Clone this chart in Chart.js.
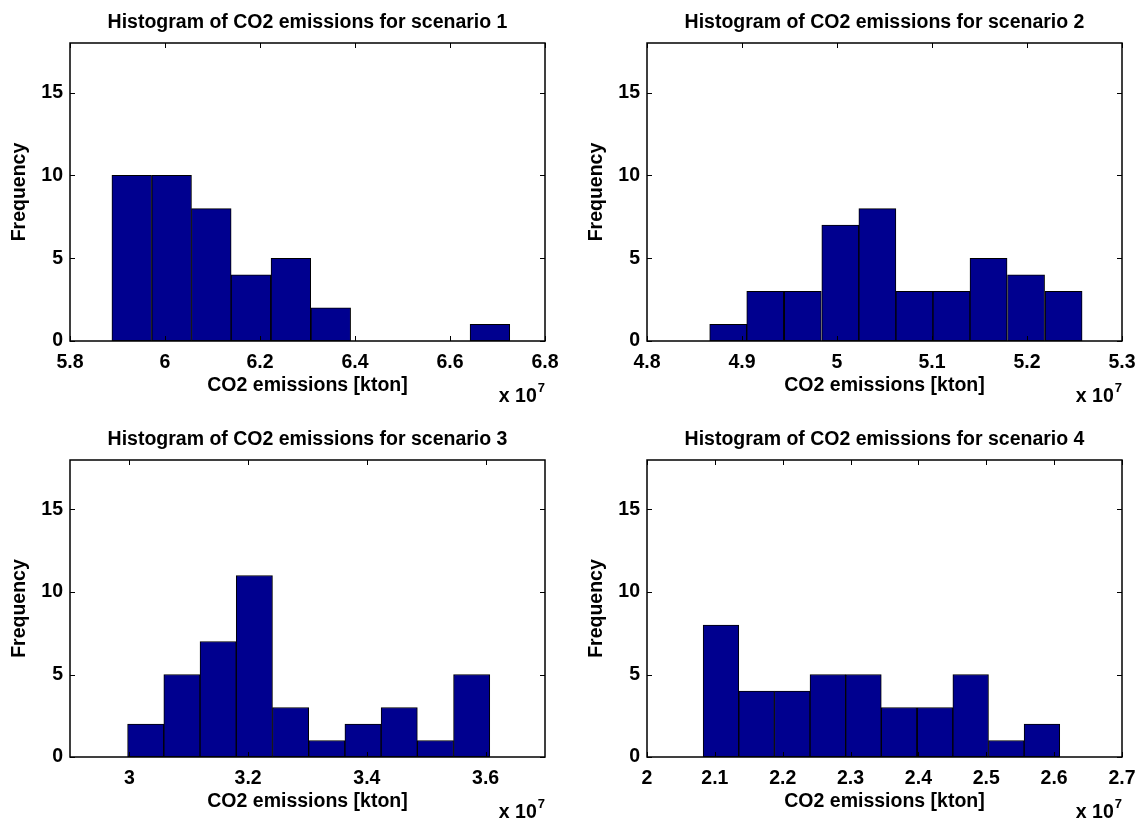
<!DOCTYPE html>
<html>
<head>
<meta charset="utf-8">
<script src="https://cdn.jsdelivr.net/npm/chart.js@4.4.1/dist/chart.umd.min.js"></script>
<style>
  body { margin: 0; background: #fff; }
  canvas { position: absolute; }
</style>
</head>
<body>
<canvas id="c1" width="571" height="410" style="left:0;top:0"></canvas>
<canvas id="c2" width="571" height="410" style="left:571px;top:0"></canvas>
<canvas id="c3" width="571" height="409" style="left:0;top:410px"></canvas>
<canvas id="c4" width="571" height="409" style="left:571px;top:410px"></canvas>
<script>
// values in units of 10^7 kton
const titles = [
  'Histogram of CO2 emissions for scenario 1',
  'Histogram of CO2 emissions for scenario 2',
  'Histogram of CO2 emissions for scenario 3',
  'Histogram of CO2 emissions for scenario 4'
];
const xLabel = 'CO2 emissions [kton]';
const yLabel = 'Frequency';
const yTicks = [0, 5, 10, 15];
const yMax = 18;

const edges1 = [5.888, 5.972, 6.056, 6.139, 6.223, 6.307, 6.391, 6.474, 6.558, 6.642, 6.726];
const counts1 = [10, 10, 8, 4, 5, 2, 0, 0, 0, 1];
const xTicks1 = [5.8, 6, 6.2, 6.4, 6.6, 6.8];
const xRange1 = [5.8, 6.8];

const edges2 = [4.866, 4.905, 4.944, 4.984, 5.023, 5.062, 5.101, 5.140, 5.179, 5.219, 5.258];
const counts2 = [1, 3, 3, 7, 8, 3, 3, 5, 4, 3];
const xTicks2 = [4.8, 4.9, 5, 5.1, 5.2, 5.3];
const xRange2 = [4.8, 5.3];

const edges3 = [2.997, 3.058, 3.119, 3.180, 3.241, 3.302, 3.363, 3.424, 3.485, 3.546, 3.607];
const counts3 = [2, 5, 7, 11, 3, 1, 2, 3, 1, 5];
const xTicks3 = [3, 3.2, 3.4, 3.6];
const xRange3 = [2.9, 3.7];

const edges4 = [2.083, 2.135, 2.188, 2.240, 2.293, 2.345, 2.398, 2.451, 2.503, 2.556, 2.608];
const counts4 = [8, 4, 4, 5, 5, 3, 3, 5, 1, 2];
const xTicks4 = [2, 2.1, 2.2, 2.3, 2.4, 2.5, 2.6, 2.7];
const xRange4 = [2, 2.7];

const FONT = '"Liberation Sans", Arial, sans-serif';

// plot boxes inside each canvas
const panels = [
  { id: 'c1', edges: edges1, counts: counts1, ticks: xTicks1, range: xRange1, area: { left: 70, top: 43, right: 545, bottom: 341 } },
  { id: 'c2', edges: edges2, counts: counts2, ticks: xTicks2, range: xRange2, area: { left: 76, top: 43, right: 551, bottom: 341 } },
  { id: 'c3', edges: edges3, counts: counts3, ticks: xTicks3, range: xRange3, area: { left: 70, top: 50, right: 545, bottom: 347 } },
  { id: 'c4', edges: edges4, counts: counts4, ticks: xTicks4, range: xRange4, area: { left: 76, top: 50, right: 551, bottom: 347 } }
];

// matlab style box, inward ticks and the texts
const matlabAxes = {
  id: 'matlabAxes',
  afterDraw(chart, args, opts) {
    const { ctx, chartArea: a } = chart;
    const x = chart.scales.x, y = chart.scales.y;
    ctx.save();
    ctx.strokeStyle = '#000';
    ctx.lineWidth = 1;
    ctx.beginPath();
    x.ticks.forEach(t => {
      const px = Math.round(x.getPixelForValue(t.value)) + 0.5;
      ctx.moveTo(px, a.bottom); ctx.lineTo(px, a.bottom - 5);
      ctx.moveTo(px, a.top); ctx.lineTo(px, a.top + 5);
    });
    y.ticks.forEach(t => {
      const py = Math.round(y.getPixelForValue(t.value)) + 0.5;
      ctx.moveTo(a.left, py); ctx.lineTo(a.left + 5, py);
      ctx.moveTo(a.right, py); ctx.lineTo(a.right - 5, py);
    });
    ctx.stroke();
    ctx.lineWidth = 1.5;
    ctx.strokeRect(a.left, a.top, a.right - a.left, a.bottom - a.top);

    const cx = (a.left + a.right) / 2;
    ctx.fillStyle = '#000';
    ctx.textBaseline = 'alphabetic';
    ctx.textAlign = 'center';
    ctx.font = 'bold 19.5px ' + FONT;
    ctx.fillText(opts.title, cx, a.top - 15);
    ctx.fillText(xLabel, cx, a.bottom + 50);

    // x 10^7
    ctx.textAlign = 'right';
    ctx.font = 'bold 13px ' + FONT;
    ctx.fillText('7', a.right, a.bottom + 51);
    const w7 = ctx.measureText('7').width;
    ctx.font = 'bold 19.5px ' + FONT;
    ctx.fillText('x 10', a.right - w7 - 1, a.bottom + 61);

    ctx.translate(a.left - 45, (a.top + a.bottom) / 2);
    ctx.rotate(-Math.PI / 2);
    ctx.textAlign = 'center';
    ctx.fillText(yLabel, 0, 0);
    ctx.restore();
  }
};

panels.forEach((p, k) => {
  const canvas = document.getElementById(p.id);
  const W = canvas.width, H = canvas.height;
  const bars = p.counts.map((c, i) => ({ x: (p.edges[i] + p.edges[i + 1]) / 2, y: c }));
  const tickFont = { family: FONT, size: 19.5, weight: 'bold' };

  new Chart(canvas, {
    type: 'bar',
    data: {
      datasets: [{
        data: bars,
        backgroundColor: '#00008f',
        borderColor: '#000',
        borderWidth: 1,
        borderSkipped: false,
        barPercentage: 1,
        categoryPercentage: 1
      }]
    },
    options: {
      responsive: false,
      animation: false,
      layout: { padding: { top: p.area.top, left: 0, right: 0, bottom: 0 } },
      plugins: {
        legend: { display: false },
        tooltip: { enabled: false },
        matlabAxes: { title: titles[k] }
      },
      scales: {
        x: {
          type: 'linear',
          min: p.range[0],
          max: p.range[1],
          offset: false,
          grid: { display: false },
          border: { display: false },
          afterBuildTicks: s => { s.ticks = p.ticks.map(v => ({ value: v })); },
          afterFit: s => { s.height = H - p.area.bottom; },
          ticks: {
            padding: 2, color: '#000', font: tickFont, maxRotation: 0, autoSkip: false,
            callback: v => String(+v.toFixed(2))
          }
        },
        y: {
          min: 0,
          max: yMax,
          grid: { display: false },
          border: { display: false },
          afterBuildTicks: s => { s.ticks = yTicks.map(v => ({ value: v })); },
          afterFit: s => { s.width = p.area.left; },
          ticks: { padding: -1, color: '#000', font: tickFont }
        },
        y2: {
          position: 'right',
          grid: { display: false },
          border: { display: false },
          ticks: { display: false },
          afterFit: s => { s.width = W - p.area.right; }
        }
      }
    },
    plugins: [matlabAxes]
  });
});
</script>
</body>
</html>
